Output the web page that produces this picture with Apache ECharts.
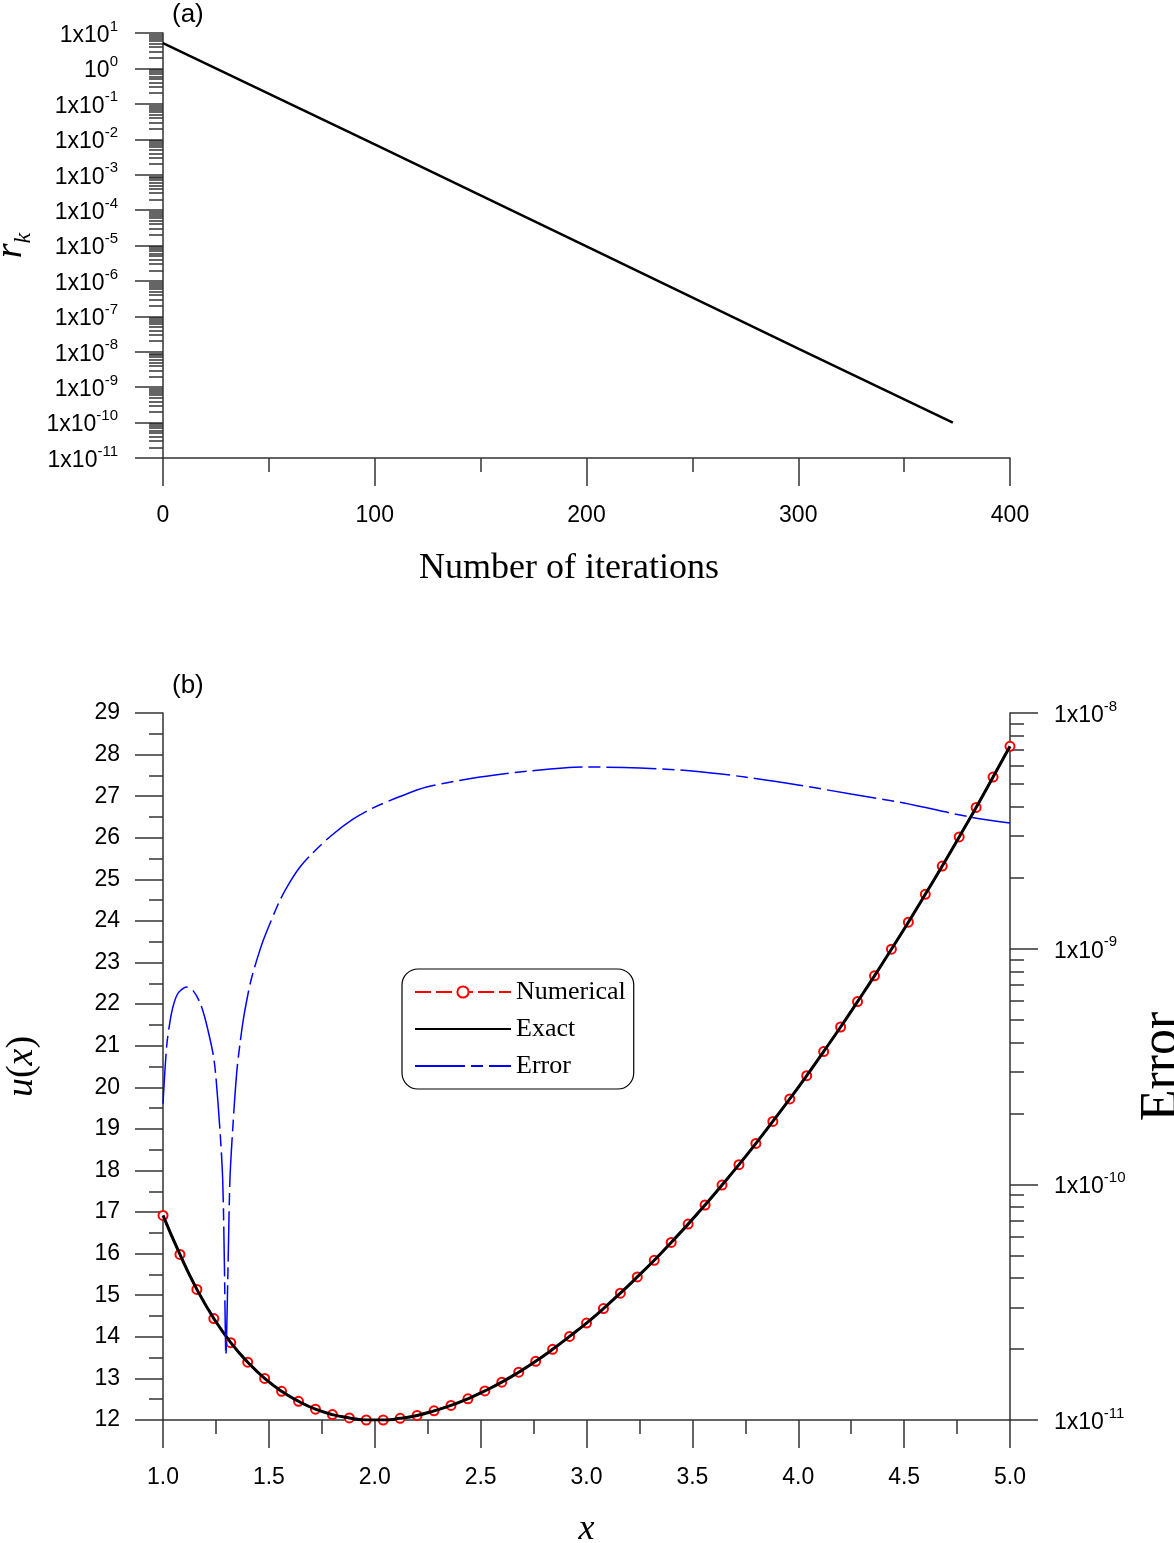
<!DOCTYPE html>
<html>
<head>
<meta charset="utf-8">
<script src="https://cdn.jsdelivr.net/npm/echarts@6/dist/echarts.min.js"></script>
<style>html,body{margin:0;padding:0;background:#fff;}#main{width:1174px;height:1543px;}</style>
</head>
<body>
<div id="main"></div>
<script>
// ---- Panel (a): residual vs iterations ----
const iterations = [0, 100, 200, 300, 373];
const residuals = [5.2, 7.2e-3, 9.5e-6, 1.23e-8, 1.0e-10];

// ---- Panel (b): u(x) numerical / exact ----
const xs = [1.00,1.08,1.16,1.24,1.32,1.40,1.48,1.56,1.64,1.72,1.80,1.88,1.96,2.04,2.12,2.20,2.28,2.36,2.44,2.52,2.60,2.68,2.76,2.84,2.92,3.00,3.08,3.16,3.24,3.32,3.40,3.48,3.56,3.64,3.72,3.80,3.88,3.96,4.04,4.12,4.20,4.28,4.36,4.44,4.52,4.60,4.68,4.76,4.84,4.92,5.00];
const uNumerical = [16.92,15.98,15.14,14.44,13.86,13.39,13.00,12.69,12.45,12.26,12.13,12.05,12.00,12.00,12.04,12.11,12.22,12.35,12.51,12.70,12.91,13.15,13.41,13.70,14.01,14.33,14.68,15.05,15.44,15.84,16.27,16.71,17.17,17.65,18.14,18.65,19.18,19.72,20.28,20.86,21.45,22.06,22.68,23.32,23.97,24.64,25.32,26.02,26.73,27.46,28.20];
const uExact = [16.92,15.98,15.14,14.44,13.86,13.39,13.00,12.69,12.45,12.26,12.13,12.05,12.00,12.00,12.04,12.11,12.22,12.35,12.51,12.70,12.91,13.15,13.41,13.70,14.01,14.33,14.68,15.05,15.44,15.84,16.27,16.71,17.17,17.65,18.14,18.65,19.18,19.72,20.28,20.86,21.45,22.06,22.68,23.32,23.97,24.64,25.32,26.02,26.73,27.46,28.20];

// ---- Panel (b): error (right log axis) ----
const errX = [1.000,1.017,1.033,1.049,1.072,1.112,1.143,1.175,1.198,1.214,1.230,1.241,1.250,1.269,1.282,1.290,1.297,1.307,1.316,1.329,1.348,1.364,1.383,1.416,1.463,1.496,1.553,1.600,1.647,1.702,1.797,1.899,1.990,2.119,2.245,2.497,2.733,2.998,3.253,3.498,3.748,3.999,4.249,4.499,4.811,5.000];
const errVal = [2.20e-10,3.83e-10,4.90e-10,5.75e-10,6.49e-10,6.87e-10,6.62e-10,5.89e-10,5.08e-10,4.44e-10,3.83e-10,3.37e-10,2.85e-10,1.70e-10,1.04e-10,4.55e-11,1.89e-11,4.42e-11,1.04e-10,1.70e-10,2.97e-10,3.98e-10,5.24e-10,7.36e-10,1.02e-9,1.22e-9,1.61e-9,1.92e-9,2.22e-9,2.52e-9,3.03e-9,3.55e-9,3.95e-9,4.42e-9,4.85e-9,5.35e-9,5.68e-9,5.90e-9,5.84e-9,5.68e-9,5.35e-9,4.95e-9,4.53e-9,4.15e-9,3.62e-9,3.41e-9];

const SANS = 'Liberation Sans';
const SERIF = 'Liberation Serif';
const AX = '#333';

function sciLabel(v) {
  const e = Math.round(Math.log10(v));
  if (e === 0) return '{b|10}{s|0}';
  return '{b|1x10}{s|' + e + '}';
}
const sciRich = {
  b: {fontSize: 23, fontFamily: SANS, color: '#000', lineHeight: 28, verticalAlign: 'bottom'},
  s: {fontSize: 15, fontFamily: SANS, color: '#000', lineHeight: 28, verticalAlign: 'top'}
};
const lineSt = {color: AX, width: 1.5};

function zip(a, b) { return a.map((v, i) => [v, b[i]]); }

const chart = echarts.init(document.getElementById('main'), null, {renderer: 'canvas'});
const option = {
  animation: false,
  backgroundColor: '#fff',
  grid: [
    {left: 163, right: 164, top: 33, height: 425, containLabel: false, outerBoundsMode: 'none'},
    {left: 163, right: 164, top: 713, height: 707, containLabel: false, outerBoundsMode: 'none'}
  ],
  xAxis: [
    {
      gridIndex: 0, type: 'value', min: 0, max: 400, interval: 100,
      axisLine: {onZero: false, lineStyle: lineSt},
      axisTick: {length: 28, lineStyle: lineSt},
      minorTick: {show: true, splitNumber: 2, length: 14, lineStyle: lineSt},
      splitLine: {show: false}, minorSplitLine: {show: false},
      axisLabel: {margin: 46, fontSize: 23, fontFamily: SANS, color: '#000'},
      name: 'Number of iterations', nameLocation: 'middle', nameGap: 93,
      nameTextStyle: {fontFamily: SERIF, fontSize: 36, color: '#000', padding: [0, 35, 0, 0]}
    },
    {
      gridIndex: 1, type: 'value', min: 1, max: 5, interval: 0.5,
      axisLine: {onZero: false, lineStyle: lineSt},
      axisTick: {length: 28, lineStyle: lineSt},
      minorTick: {show: true, splitNumber: 2, length: 14, lineStyle: lineSt},
      splitLine: {show: false}, minorSplitLine: {show: false},
      axisLabel: {margin: 46, fontSize: 23, fontFamily: SANS, color: '#000', formatter: v => v.toFixed(1)},
      name: '{i|x}', nameLocation: 'middle', nameGap: 92,
      nameTextStyle: {rich: {i: {fontFamily: SERIF, fontStyle: 'italic', fontSize: 36, color: '#000'}}}
    }
  ],
  yAxis: [
    {
      gridIndex: 0, type: 'log', logBase: 10, min: 1e-11, max: 10, interval: 1,
      axisLine: {onZero: false, lineStyle: lineSt},
      axisTick: {length: 28, lineStyle: lineSt},
      minorTick: {show: true, splitNumber: 9, length: 14, lineStyle: lineSt},
      splitLine: {show: false}, minorSplitLine: {show: false},
      axisLabel: {margin: 45, formatter: sciLabel, rich: sciRich},
      name: '{r|r}{k|k}', nameLocation: 'middle', nameGap: 128,
      nameTextStyle: {rich: {
        r: {fontFamily: SERIF, fontStyle: 'italic', fontSize: 38, color: '#000', lineHeight: 40, verticalAlign: 'bottom'},
        k: {fontFamily: SERIF, fontStyle: 'italic', fontSize: 24, color: '#000', lineHeight: 40, verticalAlign: 'bottom', padding: [0, 0, -6, 0]}
      }}
    },
    {
      gridIndex: 1, type: 'value', min: 12, max: 29, interval: 1, position: 'left',
      axisLine: {onZero: false, lineStyle: lineSt},
      axisTick: {length: 28, lineStyle: lineSt},
      minorTick: {show: true, splitNumber: 2, length: 14, lineStyle: lineSt},
      splitLine: {show: false}, minorSplitLine: {show: false},
      axisLabel: {margin: 43, fontSize: 23, fontFamily: SANS, color: '#000'},
      name: '{i|u}({i|x})', nameLocation: 'middle', nameGap: 122,
      nameTextStyle: {fontFamily: SERIF, fontSize: 38, color: '#000',
        rich: {i: {fontFamily: SERIF, fontStyle: 'italic', fontSize: 38, color: '#000'}}}
    },
    {
      gridIndex: 1, type: 'log', logBase: 10, min: 1e-11, max: 1e-8, interval: 1, position: 'right',
      axisLine: {onZero: false, lineStyle: lineSt},
      axisTick: {length: 28, lineStyle: lineSt},
      minorTick: {show: true, splitNumber: 9, length: 14, lineStyle: lineSt},
      splitLine: {show: false}, minorSplitLine: {show: false},
      axisLabel: {margin: 44, formatter: sciLabel, rich: sciRich},
      name: 'Error', nameLocation: 'middle', nameGap: 122,
      nameTextStyle: {fontFamily: SERIF, fontSize: 52, color: '#000'}
    }
  ],
  legend: {
    left: 402, top: 969, orient: 'vertical',
    data: [
      {name: 'Numerical'},
      {name: 'Exact', itemStyle: {opacity: 0}},
      {name: 'Error', itemStyle: {opacity: 0}}
    ],
    itemWidth: 96, itemHeight: 14, itemGap: 11,
    padding: [10, 8, 10, 12],
    borderColor: '#000', borderWidth: 1.2, borderRadius: 16,
    textStyle: {fontFamily: SERIF, fontSize: 26, color: '#000'}
  },
  graphic: [
    {type: 'text', left: 172, top: 2, style: {text: '(a)', font: '26px "Liberation Sans"', fill: '#000'}},
    {type: 'text', left: 172, top: 673, style: {text: '(b)', font: '26px "Liberation Sans"', fill: '#000'}}
  ],
  series: [
    {
      name: 'rk', type: 'line', xAxisIndex: 0, yAxisIndex: 0,
      data: zip(iterations, residuals), showSymbol: false, symbol: 'none',
      lineStyle: {color: '#000', width: 2.5}
    },
    {
      name: 'Numerical', type: 'line', xAxisIndex: 1, yAxisIndex: 1, z: 2,
      data: zip(xs, uNumerical), symbol: 'emptyCircle', symbolSize: 9,
      itemStyle: {color: '#ff0000', borderColor: '#ff0000', borderWidth: 1.5},
      lineStyle: {color: '#ff0000', width: 2, type: [16, 5]}
    },
    {
      name: 'Exact', type: 'line', xAxisIndex: 1, yAxisIndex: 1, z: 3,
      data: zip(xs, uExact), symbol: 'none', smooth: true,
      itemStyle: {color: '#000'},
      lineStyle: {color: '#000', width: 3}
    },
    {
      name: 'Error', type: 'line', xAxisIndex: 1, yAxisIndex: 2, z: 4,
      data: zip(errX, errVal), symbol: 'none', smooth: 0.3,
      itemStyle: {color: '#0000ff'},
      lineStyle: {color: '#0000ff', width: 1.5, type: [50, 6, 12, 6]}
    }
  ]
};
chart.setOption(option);
</script>
</body>
</html>
